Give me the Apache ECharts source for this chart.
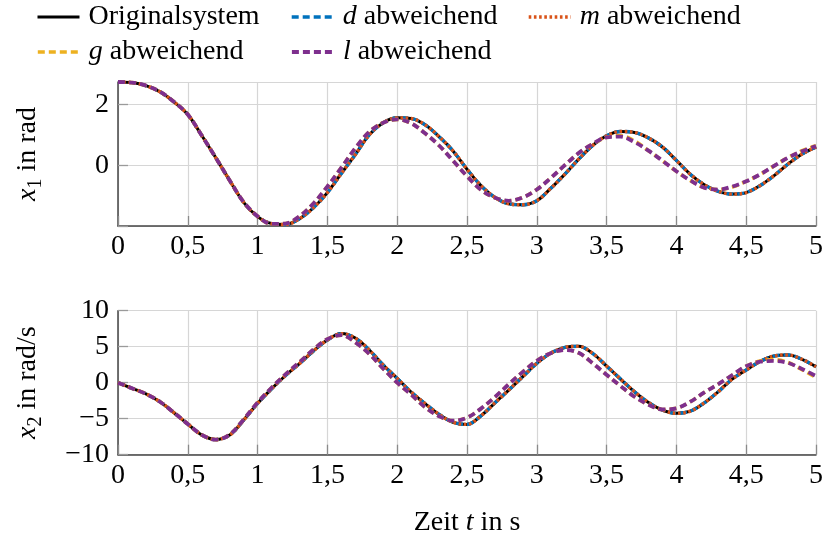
<!DOCTYPE html>
<html><head><meta charset="utf-8">
<script src="https://cdn.jsdelivr.net/npm/echarts@6/dist/echarts.min.js"></script>
<style>html,body{margin:0;padding:0;background:#fff}#c{width:824px;height:541px}</style>
</head><body><div id="c"></div>
<script>
// time in s
const time = [0,0.1,0.2,0.3,0.4,0.5,0.6,0.7,0.8,0.9,1,1.1,1.2,1.3,1.4,1.5,1.6,1.7,1.8,1.9,2,2.1,2.2,2.3,2.4,2.5,2.6,2.7,2.8,2.9,3,3.1,3.2,3.3,3.4,3.5,3.6,3.7,3.8,3.9,4,4.1,4.2,4.3,4.4,4.5,4.6,4.7,4.8,4.9,5];

// x1 in rad
const x1Original = [2.74,2.72,2.62,2.42,2.09,1.67,0.98,0.25,-0.50,-1.22,-1.69,-1.92,-1.95,-1.76,-1.40,-0.90,-0.27,0.35,1.00,1.40,1.56,1.54,1.33,0.94,0.47,-0.13,-0.67,-1.06,-1.27,-1.30,-1.17,-0.76,-0.30,0.20,0.65,0.97,1.11,1.08,0.90,0.60,0.16,-0.30,-0.64,-0.86,-0.95,-0.90,-0.67,-0.34,0.04,0.37,0.60];
const x1D = [2.74,2.72,2.62,2.42,2.09,1.67,0.98,0.25,-0.50,-1.22,-1.69,-1.92,-1.95,-1.76,-1.40,-0.90,-0.27,0.35,1.00,1.40,1.56,1.54,1.33,0.94,0.47,-0.13,-0.67,-1.06,-1.27,-1.30,-1.17,-0.76,-0.30,0.20,0.65,0.97,1.11,1.08,0.90,0.60,0.16,-0.30,-0.64,-0.86,-0.95,-0.90,-0.67,-0.34,0.04,0.37,0.60];
const x1M = [2.74,2.72,2.62,2.42,2.09,1.67,0.98,0.25,-0.50,-1.22,-1.69,-1.92,-1.95,-1.76,-1.40,-0.90,-0.27,0.35,1.00,1.40,1.56,1.54,1.33,0.94,0.47,-0.13,-0.67,-1.06,-1.27,-1.30,-1.17,-0.76,-0.30,0.20,0.65,0.97,1.11,1.08,0.90,0.60,0.16,-0.30,-0.64,-0.86,-0.95,-0.90,-0.67,-0.34,0.04,0.37,0.60];
const x1G = [2.74,2.72,2.62,2.42,2.09,1.67,0.98,0.25,-0.50,-1.21,-1.68,-1.93,-1.92,-1.68,-1.26,-0.70,-0.08,0.56,1.10,1.40,1.51,1.38,1.05,0.65,0.15,-0.36,-0.81,-1.07,-1.17,-1.06,-0.80,-0.42,0.00,0.40,0.70,0.92,0.97,0.80,0.48,0.15,-0.20,-0.50,-0.74,-0.80,-0.72,-0.53,-0.30,-0.02,0.25,0.48,0.64];
const x1L = [2.74,2.72,2.62,2.42,2.09,1.67,0.98,0.25,-0.50,-1.21,-1.68,-1.93,-1.92,-1.68,-1.26,-0.70,-0.08,0.56,1.10,1.40,1.51,1.38,1.05,0.65,0.15,-0.36,-0.81,-1.07,-1.17,-1.06,-0.80,-0.42,0.00,0.40,0.70,0.92,0.94,0.76,0.48,0.15,-0.20,-0.50,-0.74,-0.80,-0.70,-0.53,-0.30,-0.02,0.25,0.46,0.63];

// x2 in rad/s
const x2Original = [0,-0.78,-1.55,-2.64,-4.15,-5.74,-7.25,-7.90,-7.27,-5.20,-2.87,-0.85,1.00,2.65,4.40,5.93,6.82,6.20,4.54,2.45,0.60,-1.30,-2.90,-4.40,-5.50,-5.79,-4.60,-2.80,-1.00,0.85,2.69,4.10,4.90,5.05,4.07,2.31,0.50,-1.25,-2.75,-3.80,-4.25,-3.95,-2.80,-1.25,0.50,1.76,2.95,3.70,3.85,3.25,2.22];
const x2D = [0,-0.78,-1.55,-2.64,-4.15,-5.74,-7.25,-7.90,-7.27,-5.20,-2.87,-0.85,1.00,2.65,4.40,5.93,6.82,6.20,4.54,2.45,0.60,-1.30,-2.90,-4.40,-5.50,-5.79,-4.60,-2.80,-1.00,0.85,2.69,4.10,4.90,5.05,4.07,2.31,0.50,-1.25,-2.75,-3.80,-4.25,-3.95,-2.80,-1.25,0.50,1.76,2.95,3.70,3.85,3.25,2.22];
const x2M = [0,-0.78,-1.55,-2.64,-4.15,-5.74,-7.25,-7.90,-7.27,-5.20,-2.87,-0.85,1.00,2.65,4.40,5.93,6.82,6.20,4.54,2.45,0.60,-1.30,-2.90,-4.40,-5.50,-5.79,-4.60,-2.80,-1.00,0.85,2.69,4.10,4.90,5.05,4.07,2.31,0.50,-1.25,-2.75,-3.80,-4.25,-3.95,-2.80,-1.25,0.50,1.76,2.95,3.70,3.85,3.25,2.22];
const x2G = [0,-0.78,-1.55,-2.64,-4.15,-5.74,-7.25,-7.90,-7.20,-5.10,-2.75,-0.70,1.15,2.85,4.60,6.05,6.60,5.60,4.00,1.95,0.00,-1.65,-3.40,-4.65,-5.28,-4.85,-3.60,-2.00,-0.20,1.50,3.05,4.10,4.55,4.15,2.70,1.10,-0.46,-1.95,-3.05,-3.72,-3.56,-2.64,-1.35,-0.20,1.05,2.30,3.00,3.20,2.80,1.80,0.74];
const x2L = [0,-0.78,-1.55,-2.64,-4.15,-5.74,-7.25,-7.90,-7.20,-5.10,-2.75,-0.70,1.15,2.85,4.60,6.05,6.60,5.60,4.00,1.95,0.00,-1.65,-3.40,-4.65,-5.28,-4.85,-3.60,-2.00,-0.20,1.50,3.05,4.10,4.55,4.15,2.70,1.10,-0.46,-1.95,-3.05,-3.72,-3.56,-2.64,-1.35,-0.20,1.05,2.30,2.92,3.02,2.75,1.90,0.93];

const names = ['Originalsystem','d abweichend','m abweichend','g abweichend','l abweichend'];
const xTickLabels = ['0','0,5','1','1,5','2','2,5','3','3,5','4','4,5','5'];
const y1TickLabels = ['0','2'];
const y2TickLabels = ['−10','−5','0','5','10'];

const FONT = 'Liberation Serif';
const FS = 28;
const colors = ['#000000','#0072BD','#D95319','#EDB120','#7E2F8E'];
const widths = [3,3.4,3.4,3.6,3.8];
const dashes = ['solid',[7,4],[2.6,2.6],[7,4],[7,4]];

const rich = {
  t:{fontFamily:FONT,fontSize:FS,color:'#000',lineHeight:36,verticalAlign:'middle'},
  x:{fontFamily:FONT,fontSize:FS,fontStyle:'italic',color:'#000',lineHeight:36,verticalAlign:'middle'},
  s:{fontFamily:FONT,fontSize:20,color:'#000',verticalAlign:'bottom'}
};

function xAxis(i){
  return {
    type:'value', gridIndex:i, min:0, max:5, interval:0.5,
    axisLine:{show:true,onZero:false,lineStyle:{color:'#444',width:1.5}},
    axisTick:{show:true,inside:true,length:10,lineStyle:{color:'#8a8a8a',width:1.3}},
    axisLabel:{fontFamily:FONT,fontSize:FS,color:'#000',margin:7,
      formatter:v=>{const k=Math.round(v*2);return xTickLabels[k]!==undefined?xTickLabels[k]:'';}},
    splitLine:{show:true,lineStyle:{color:'#d6d6d6',width:1.2}},
    name: i===1 ? '{t|Zeit }{x|t}{t| in s}' : '',
    nameLocation:'middle', nameGap:50,
    nameTextStyle:{fontFamily:FONT,fontSize:FS,color:'#000',rich:rich}
  };
}

const series = [];
const x1Sets = [x1Original,x1D,x1M,x1G,x1L];
const x2Sets = [x2Original,x2D,x2M,x2G,x2L];
[x1Sets,x2Sets].forEach((sets,gi)=>{
  sets.forEach((vals,si)=>{
    series.push({
      type:'line', name:names[si], xAxisIndex:gi, yAxisIndex:gi,
      data: time.map((t,k)=>[t,vals[k]]),
      showSymbol:false, symbol:'none', smooth:0.35, silent:true,
      lineStyle:{color:colors[si],width:widths[si],type:dashes[si],cap:'butt'},
      itemStyle:{color:colors[si]}
    });
  });
});

function legendAt(idx,left,top){
  return {
    data:[names[idx]], left:left, top:top, padding:0, itemGap:0,
    itemWidth:42, itemHeight:14, selectedMode:false,
    itemStyle:{opacity:0,borderWidth:0},
    lineStyle:{width:widths[idx]},
    textStyle:{fontFamily:FONT,fontSize:FS,color:'#000',lineHeight:30,padding:[0,0,0,4],
      rich:{i:{fontFamily:FONT,fontSize:FS,fontStyle:'italic',color:'#000',lineHeight:30}}},
    formatter:n=> n==='Originalsystem' ? n : '{i|'+n.charAt(0)+'}'+n.slice(1)
  };
}

const option = {
  animation:false,
  backgroundColor:'#fff',
  legend:[legendAt(0,36,2),legendAt(1,290,2),legendAt(2,527,2),legendAt(3,36,37),legendAt(4,290,37)],
  grid:[
    {left:118,right:8,top:82,height:144,containLabel:false,outerBoundsMode:'none'},
    {left:118,right:8,top:310.7,height:144,containLabel:false,outerBoundsMode:'none'}
  ],
  xAxis:[xAxis(0),xAxis(1)],
  yAxis:[
    {type:'value',gridIndex:0,min:-2,max:2.74,interval:2,
      axisLine:{show:true,onZero:false,lineStyle:{color:'#444',width:1.5}},
      axisTick:{show:true,inside:true,length:10,lineStyle:{color:'#9a9a9a',width:1.3}},
      axisLabel:{fontFamily:FONT,fontSize:FS,color:'#000',margin:9,showMaxLabel:false,
        formatter:v=> v===0 ? y1TickLabels[0] : (v===2 ? y1TickLabels[1] : '')},
      splitLine:{show:true,lineStyle:{color:'#d6d6d6',width:1.2}},
      name:'{x|x}{s|1}{t| in rad}', nameLocation:'middle', nameRotate:90, nameGap:72,
      nameTextStyle:{fontFamily:FONT,fontSize:FS,color:'#000',rich:rich}},
    {type:'value',gridIndex:1,min:-10,max:10,interval:5,
      axisLine:{show:true,onZero:false,lineStyle:{color:'#444',width:1.5}},
      axisTick:{show:true,inside:true,length:10,lineStyle:{color:'#9a9a9a',width:1.3}},
      axisLabel:{fontFamily:FONT,fontSize:FS,color:'#000',margin:9,
        formatter:v=>{const k=Math.round(v/5)+2;return y2TickLabels[k]!==undefined?y2TickLabels[k]:'';}},
      splitLine:{show:true,lineStyle:{color:'#d6d6d6',width:1.2}},
      name:'{x|x}{s|2}{t| in rad/s}', nameLocation:'middle', nameRotate:90, nameGap:72,
      nameTextStyle:{fontFamily:FONT,fontSize:FS,color:'#000',rich:rich}}
  ],
  series:series
};

const chart = echarts.init(document.getElementById('c'));
chart.setOption(option);
</script>
</body></html>
